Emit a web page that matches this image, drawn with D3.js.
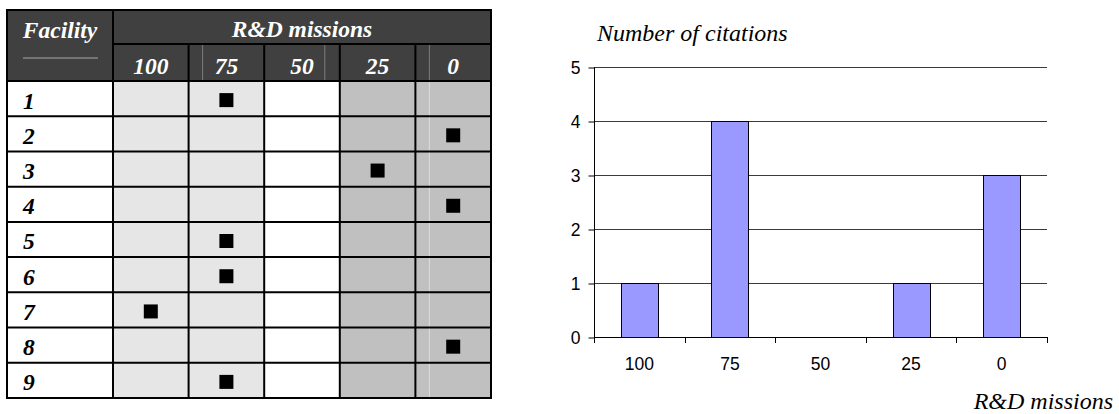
<!DOCTYPE html>
<html>
<head>
<meta charset="utf-8">
<script src="https://cdn.jsdelivr.net/npm/d3@7/dist/d3.min.js"></script>
<style>
  html, body { margin: 0; padding: 0; background: #fff; }
  svg { display: block; }
</style>
</head>
<body>
<svg id="chart" width="1119" height="414"></svg>
<script>
// ---------------- data ----------------
const missionLevels = ["100", "75", "50", "25", "0"];
const facilities = ["1", "2", "3", "4", "5", "6", "7", "8", "9"];
const facilityMission = ["75", "0", "25", "0", "75", "75", "100", "0", "75"];
const citations = [1, 4, 0, 1, 3];
const yTickValues = [0, 1, 2, 3, 4, 5];
const tableTitle = "Facility";
const tableGroupTitle = "R&D missions";
const yAxisTitle = "Number of citations";
const xAxisTitle = "R&D missions";

// ---------------- drawing ----------------
const svg = d3.select("#chart");
const serif = "'Liberation Serif', 'Times New Roman', serif";
const sans = "'Liberation Sans', Arial, sans-serif";

// ===== Table =====
const T = { left: 7, top: 10, facRight: 113, right: 491, head1: 44, head2: 81, bottom: 398 };
const colX = d3.scaleBand().domain(missionLevels).range([T.facRight, T.right]);
const rowY = d3.scaleBand().domain(facilities).range([T.head2, T.bottom]);
const colFill = { "100": "#e6e6e6", "75": "#e6e6e6", "50": "#ffffff", "25": "#c0c0c0", "0": "#c0c0c0" };

const tbl = svg.append("g");
// header background
tbl.append("rect").attr("x", T.left).attr("y", T.top)
  .attr("width", T.right - T.left).attr("height", T.head2 - T.top).attr("fill", "#404040");
// body: facility column
tbl.append("rect").attr("x", T.left).attr("y", T.head2)
  .attr("width", T.facRight - T.left).attr("height", T.bottom - T.head2).attr("fill", "#fff");
// body: mission columns
tbl.selectAll("rect.col").data(missionLevels).join("rect")
  .attr("class", "col")
  .attr("x", d => colX(d)).attr("y", T.head2)
  .attr("width", colX.bandwidth()).attr("height", T.bottom - T.head2)
  .attr("fill", d => colFill[d]);

// faint internal lines (artifacts of the original table)
const bw = colX.bandwidth();
[["75", 14], ["50", bw - 15], ["0", 14]].forEach(([c, off]) => {
  tbl.append("line").attr("x1", colX(c) + off).attr("x2", colX(c) + off)
    .attr("y1", T.head1 + 1).attr("y2", T.head2 - 1)
    .attr("stroke", "#7c7c7c").attr("stroke-width", 1);
});
tbl.append("line").attr("x1", colX("0") + 14).attr("x2", colX("0") + 14)
  .attr("y1", T.head2 + 1).attr("y2", T.bottom - 1)
  .attr("stroke", "#dcdcdc").attr("stroke-width", 1);
// decorative line under "Facility"
tbl.append("line").attr("x1", 23).attr("x2", 98).attr("y1", 58).attr("y2", 58)
  .attr("stroke", "#a8a8a8").attr("stroke-width", 1);

// grid lines
const lineStyle = sel => sel.attr("stroke", "#000").attr("stroke-width", 2);
tbl.selectAll("line.row").data(facilities.slice(1)).join("line")
  .attr("class", "row")
  .attr("x1", T.left).attr("x2", T.right)
  .attr("y1", d => rowY(d)).attr("y2", d => rowY(d))
  .call(lineStyle);
tbl.append("line").attr("x1", T.left).attr("x2", T.right).attr("y1", T.head2).attr("y2", T.head2).call(lineStyle);
tbl.append("line").attr("x1", T.facRight).attr("x2", T.right).attr("y1", T.head1).attr("y2", T.head1).call(lineStyle);
tbl.append("line").attr("x1", T.facRight).attr("x2", T.facRight).attr("y1", T.top).attr("y2", T.bottom).call(lineStyle);
tbl.selectAll("line.colsep").data(missionLevels.slice(1)).join("line")
  .attr("class", "colsep")
  .attr("x1", d => colX(d)).attr("x2", d => colX(d))
  .attr("y1", T.head1).attr("y2", T.bottom)
  .call(lineStyle);
tbl.append("rect").attr("x", T.left).attr("y", T.top)
  .attr("width", T.right - T.left).attr("height", T.bottom - T.top)
  .attr("fill", "none").call(lineStyle);

// header texts
const headFont = sel => sel.attr("font-family", serif).attr("font-style", "italic")
  .attr("font-weight", "bold").attr("font-size", 23.5);
tbl.append("text").text(tableTitle).call(headFont)
  .attr("x", (T.left + T.facRight) / 2).attr("y", 38).attr("text-anchor", "middle").attr("fill", "#fff");
tbl.append("text").text(tableGroupTitle).call(headFont)
  .attr("x", (T.facRight + T.right) / 2).attr("y", 37).attr("text-anchor", "middle").attr("fill", "#fff");
tbl.selectAll("text.colhead").data(missionLevels).join("text")
  .attr("class", "colhead").text(d => d).call(headFont)
  .attr("x", d => colX(d) + bw / 2).attr("y", 74).attr("text-anchor", "middle").attr("fill", "#fff");
// row labels
tbl.selectAll("text.rowlab").data(facilities).join("text")
  .attr("class", "rowlab").text(d => d).call(headFont)
  .attr("x", 23).attr("y", d => rowY(d) + 27.5).attr("fill", "#000");
// markers
const ms = 14;
tbl.selectAll("rect.mark").data(facilities.map((f, i) => ({ f, m: facilityMission[i] }))).join("rect")
  .attr("class", "mark")
  .attr("x", d => colX(d.m) + bw / 2 - ms / 2)
  .attr("y", d => rowY(d.f) + rowY.bandwidth() / 2 - ms / 2 + 1.5)
  .attr("width", ms).attr("height", ms).attr("fill", "#000");

// ===== Bar chart =====
const C = { left: 594, right: 1047, top: 67, bottom: 337 };
const pInner = 0.592;
const x = d3.scaleBand().domain(missionLevels).range([C.left, C.right])
  .paddingInner(pInner).paddingOuter(pInner / 2);
const y = d3.scaleLinear().domain([0, 5]).range([C.bottom, C.top]);
const ch = svg.append("g");

// horizontal grid lines
ch.selectAll("line.grid").data(yTickValues.filter(v => v > 0)).join("line")
  .attr("class", "grid")
  .attr("x1", C.left).attr("x2", C.right)
  .attr("y1", d => Math.round(y(d)) + 0.5).attr("y2", d => Math.round(y(d)) + 0.5)
  .attr("stroke", "#3a3a3a").attr("stroke-width", 1);

// bars
ch.selectAll("rect.bar").data(missionLevels.map((m, i) => ({ m, v: citations[i] })).filter(d => d.v > 0)).join("rect")
  .attr("class", "bar")
  .attr("x", d => Math.round(x(d.m)) + 0.5)
  .attr("y", d => Math.round(y(d.v)) + 0.5)
  .attr("width", Math.round(x.bandwidth()))
  .attr("height", d => Math.round(y(0)) - Math.round(y(d.v)))
  .attr("fill", "#9999ff").attr("stroke", "#000").attr("stroke-width", 1);

// y axis
const yAxis = ch.append("g").attr("transform", `translate(${C.left + 0.5},0.5)`)
  .call(d3.axisLeft(y).tickValues(yTickValues).tickSize(6).tickPadding(8).tickFormat(d3.format("d")));
yAxis.select(".domain").remove();
yAxis.selectAll(".tick line").attr("stroke", "#000");
yAxis.selectAll(".tick text").attr("font-family", sans).attr("font-size", 17.5).attr("fill", "#000");
ch.append("line").attr("x1", C.left + 0.5).attr("x2", C.left + 0.5)
  .attr("y1", C.top).attr("y2", C.bottom + 6).attr("stroke", "#000");

// x axis
ch.append("line").attr("x1", C.left).attr("x2", C.right + 0.5)
  .attr("y1", C.bottom + 0.5).attr("y2", C.bottom + 0.5).attr("stroke", "#000");
const step = x.step();
const boundaries = missionLevels.map(m => x(m) - (step - x.bandwidth()) / 2).concat([C.right]);
ch.selectAll("line.xtick").data(boundaries.slice(1)).join("line")
  .attr("class", "xtick")
  .attr("x1", d => Math.round(d) + 0.5).attr("x2", d => Math.round(d) + 0.5)
  .attr("y1", C.bottom).attr("y2", C.bottom + 6).attr("stroke", "#000");
ch.selectAll("text.xlab").data(missionLevels).join("text")
  .attr("class", "xlab").text(d => d)
  .attr("x", d => x(d) + x.bandwidth() / 2).attr("y", 370)
  .attr("text-anchor", "middle").attr("font-family", sans).attr("font-size", 17.5).attr("fill", "#000");

// axis titles
ch.append("text").text(yAxisTitle)
  .attr("x", 597).attr("y", 41)
  .attr("font-family", serif).attr("font-style", "italic").attr("font-size", 24).attr("fill", "#000");
ch.append("text").text(xAxisTitle)
  .attr("x", 1113).attr("y", 409).attr("text-anchor", "end")
  .attr("font-family", serif).attr("font-style", "italic").attr("font-size", 24).attr("fill", "#000");
</script>
</body>
</html>
